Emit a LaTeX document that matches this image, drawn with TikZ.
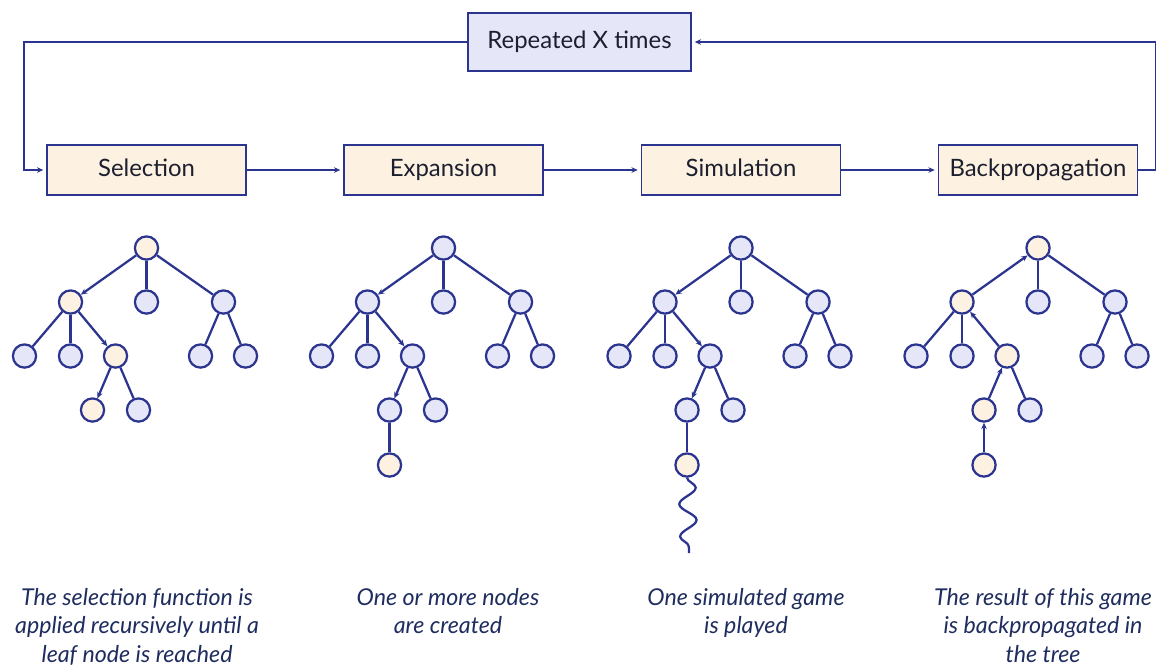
\documentclass[tikz,border=0pt]{standalone}
\usepackage{fontspec}
\setmainfont{Lato}
\usetikzlibrary{arrows.meta,decorations.pathmorphing}
\definecolor{navy}{HTML}{2B3590}
\definecolor{lavender}{HTML}{E5E6F8}
\definecolor{cream}{HTML}{FDF1E1}
\definecolor{inkdark}{HTML}{1C1F2E}
\definecolor{captionblue}{HTML}{1E2C5E}

% one search tree: #1 name prefix, #2 root x, #3 fill of the chosen path, #4 arrow along it
\newcommand{\SearchTree}[4]{
  \node[vtx,#3] (#1r) at (#2,248) {};
  \node[vtx,#3] (#1a) at ({#2-76},302) {};
  \node[vtx] (#1b) at (#2,302) {};
  \node[vtx] (#1c) at ({#2+77},302) {};
  \node[vtx] (#1aa) at ({#2-122},356) {};
  \node[vtx] (#1ab) at ({#2-76},356) {};
  \node[vtx,#3] (#1ac) at ({#2-31},356) {};
  \node[vtx] (#1ca) at ({#2+54},356) {};
  \node[vtx] (#1cb) at ({#2+99},356) {};
  \node[vtx,#3] (#1aca) at ({#2-54},410) {};
  \node[vtx] (#1acb) at ({#2-8},410) {};
  \draw[edge,#4] (#1r) -- (#1a);
  \draw[edge] (#1r) -- (#1b);
  \draw[edge] (#1r) -- (#1c);
  \draw[edge] (#1a) -- (#1aa);
  \draw[edge] (#1a) -- (#1ab);
  \draw[edge,#4] (#1a) -- (#1ac);
  \draw[edge] (#1c) -- (#1ca);
  \draw[edge] (#1c) -- (#1cb);
  \draw[edge,#4] (#1ac) -- (#1aca);
  \draw[edge] (#1ac) -- (#1acb);
}

\begin{document}
\begin{tikzpicture}[x=0.025cm,y=-0.025cm,
    >={Stealth[length=4.5pt,width=4pt]},
    stagebox/.style={draw=navy,fill=cream,line width=1.3pt,minimum width=4.975cm,
      minimum height=1.25cm,text=inkdark,font=\fontsize{17}{20}\selectfont,
      text height=12.5pt,text depth=3.5pt},
    loopbox/.style={stagebox,fill=lavender,minimum width=5.575cm,minimum height=1.45cm},
    flow/.style={draw=navy,line width=1.2pt,->,shorten >=2pt},
    vtx/.style={circle,draw=navy,fill=lavender,line width=1.6pt,minimum size=0.58cm,inner sep=0pt},
    onpath/.style={fill=cream},
    edge/.style={draw=navy,line width=1.6pt},
    caption/.style={anchor=north,align=center,inner sep=0pt,text=captionblue,
      font=\itshape\fontsize{16.5}{20.3}\selectfont}]
  \useasboundingbox (0,0) rectangle (1157,666);

  % The four stages
  \node[stagebox] (sel) at (146.5,170) {Selection};
  \node[stagebox] (exp) at (443.5,170) {Expansion};
  \node[stagebox] (sim) at (741,170) {Simulation};
  \node[stagebox] (back) at (1038,170) {Backpropagation};
  \node[loopbox] (rep) at (579.5,42) {Repeated X times};

  \draw[flow] (sel) -- (exp);
  \draw[flow] (exp) -- (sim);
  \draw[flow] (sim) -- (back);

  % Loop back to the start
  \coordinate (rcorner) at (1155.5,42);
  \coordinate (lcorner) at (24,42);
  \draw[flow] (back.east) -| (rcorner) -- (rep.east);
  \draw[flow] (rep.west) -- (lcorner) |- (sel.west);

  % Trees
  \SearchTree{s}{146.5}{onpath}{->}
  \SearchTree{e}{443.5}{}{->}
  \node[vtx,onpath] (enew) at (389.5,465) {};
  \draw[edge] (eaca) -- (enew);

  \SearchTree{m}{741}{}{->}
  \node[vtx,onpath] (mnew) at (687,465) {};
  \draw[edge] (maca) -- (mnew);
  \coordinate (mend) at (689,553);
  \draw[edge,decorate,decoration={snake,amplitude=6pt,segment length=23pt}] (mnew.south) -- (mend);

  \SearchTree{b}{1038}{onpath}{<-}
  \node[vtx,onpath] (bnew) at (984,465) {};
  \draw[edge,->] (bnew) -- (baca);

  % Captions
  \node[caption] (selnote) at (137,588) {The selection function is\\applied recursively until a\\leaf node is reached};
  \node[caption] (expnote) at (448,588) {One or more nodes\\are created};
  \node[caption] (simnote) at (746,588) {One simulated game\\is played};
  \node[caption] (backnote) at (1043,588) {The result of this game\\is backpropagated in\\the tree};
\end{tikzpicture}
\end{document}
